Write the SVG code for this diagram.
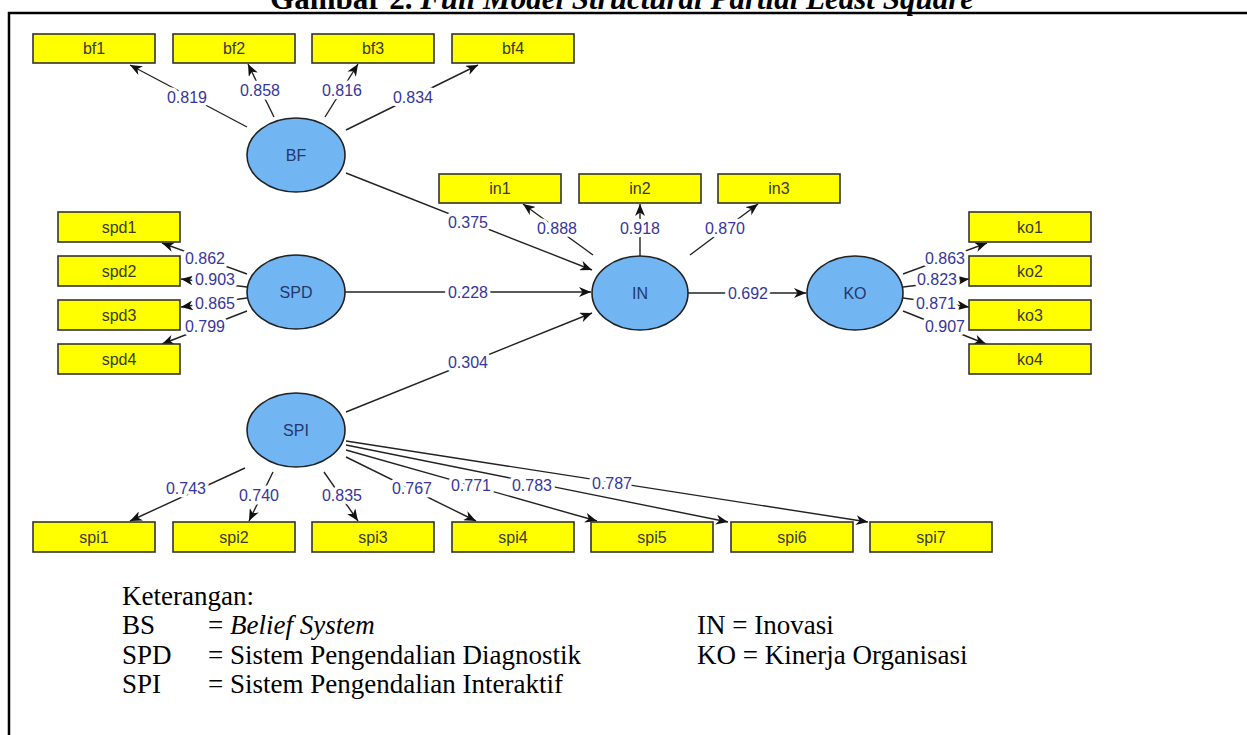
<svg xmlns="http://www.w3.org/2000/svg" width="1247" height="735" viewBox="0 0 1247 735">
<style>
.box{fill:#ffff00;stroke:#333;stroke-width:1.6}
.bt{font-family:"Liberation Sans",Arial,sans-serif;font-size:16px;fill:#3a3a2a;text-anchor:middle}
.lv{fill:#72b5f3;stroke:#222;stroke-width:1.6}
.lt{font-family:"Liberation Sans",Arial,sans-serif;font-size:16px;fill:#24386a;text-anchor:middle}
.c{stroke:#222;stroke-width:1.4;fill:none;marker-end:url(#ah)}
.w{font-family:"Liberation Sans",Arial,sans-serif;font-size:16px;fill:#36369c;text-anchor:middle;stroke:#fff;stroke-width:7;stroke-linejoin:round;paint-order:stroke}
.lg{font-family:"Liberation Serif","Times New Roman",serif;font-size:27px;fill:#000}
</style>
<defs>
<marker id="ah" viewBox="0 0 12 10" refX="12" refY="5" markerWidth="12" markerHeight="10" markerUnits="userSpaceOnUse" orient="auto">
<path d="M0,0 L12,5 L0,10 L3.5,5 Z" fill="#111"/>
</marker>
</defs>
<rect width="1247" height="735" fill="#fff"/>
<text x="622" y="9" text-anchor="middle" font-family="Liberation Serif,'Times New Roman',serif" font-weight="bold" font-size="31">Gambar 2. <tspan font-style="italic">Full Model Structural Partial Least Square</tspan></text>
<rect x="9" y="13" width="1260" height="740" fill="none" stroke="#000" stroke-width="2.5"/>

<g id="connectors">
<line class="c" x1="247" y1="127" x2="130" y2="65"/>
<line class="c" x1="274" y1="117" x2="248" y2="64"/>
<line class="c" x1="325" y1="117" x2="358" y2="64"/>
<line class="c" x1="346" y1="130" x2="478" y2="65"/>
<line class="c" x1="346" y1="173" x2="592" y2="270"/>
<line class="c" x1="343" y1="292" x2="591" y2="292"/>
<line class="c" x1="346" y1="412" x2="592" y2="313"/>
<line class="c" x1="688" y1="293" x2="806" y2="293"/>
<line class="c" x1="593" y1="255" x2="523" y2="204"/>
<line class="c" x1="640" y1="256" x2="640" y2="204"/>
<line class="c" x1="690" y1="255" x2="758" y2="204"/>
<line class="c" x1="247" y1="274" x2="162" y2="243"/>
<line class="c" x1="247" y1="287" x2="181" y2="279"/>
<line class="c" x1="247" y1="298" x2="181" y2="307"/>
<line class="c" x1="247" y1="311" x2="162" y2="344"/>
<line class="c" x1="903" y1="274" x2="987" y2="243"/>
<line class="c" x1="903" y1="287" x2="969" y2="279"/>
<line class="c" x1="903" y1="298" x2="969" y2="307"/>
<line class="c" x1="903" y1="311" x2="986" y2="344"/>
<line class="c" x1="245" y1="468" x2="130" y2="521"/>
<line class="c" x1="273" y1="472" x2="249" y2="521"/>
<line class="c" x1="324" y1="472" x2="358" y2="521"/>
<line class="c" x1="346" y1="457" x2="476" y2="521"/>
<line class="c" x1="346" y1="450" x2="597" y2="521"/>
<line class="c" x1="346" y1="445" x2="728" y2="522"/>
<line class="c" x1="346" y1="441" x2="868" y2="522"/>
<g id="labels">
<text class="w" x="187" y="103">0.819</text>
<text class="w" x="260" y="96">0.858</text>
<text class="w" x="342" y="96">0.816</text>
<text class="w" x="413" y="103">0.834</text>
<text class="w" x="468" y="228">0.375</text>
<text class="w" x="468" y="298">0.228</text>
<text class="w" x="468" y="368">0.304</text>
<text class="w" x="748" y="299">0.692</text>
<text class="w" x="557" y="234">0.888</text>
<text class="w" x="640" y="234">0.918</text>
<text class="w" x="725" y="234">0.870</text>
<text class="w" x="205" y="264">0.862</text>
<text class="w" x="215" y="285">0.903</text>
<text class="w" x="215" y="309">0.865</text>
<text class="w" x="205" y="332">0.799</text>
<text class="w" x="945" y="264">0.863</text>
<text class="w" x="937" y="285">0.823</text>
<text class="w" x="936" y="309">0.871</text>
<text class="w" x="945" y="332">0.907</text>
<text class="w" x="186" y="494">0.743</text>
<text class="w" x="259" y="501">0.740</text>
<text class="w" x="342" y="501">0.835</text>
<text class="w" x="412" y="494">0.767</text>
<text class="w" x="471" y="491">0.771</text>
<text class="w" x="532" y="491">0.783</text>
<text class="w" x="612" y="489">0.787</text>
</g>
</g>

<g id="BF"><ellipse class="lv" cx="296" cy="155" rx="49" ry="37"/><text class="lt" x="296" y="161">BF</text></g>
<g id="SPD"><ellipse class="lv" cx="296" cy="292" rx="49" ry="37"/><text class="lt" x="296" y="298">SPD</text></g>
<g id="SPI"><ellipse class="lv" cx="296" cy="430" rx="49" ry="37"/><text class="lt" x="296" y="436">SPI</text></g>
<g id="IN"><ellipse class="lv" cx="640" cy="293" rx="48" ry="37"/><text class="lt" x="640" y="299">IN</text></g>
<g id="KO"><ellipse class="lv" cx="855" cy="293" rx="48" ry="37"/><text class="lt" x="855" y="299">KO</text></g>

<g id="bf1"><rect class="box" x="33" y="34" width="122" height="29"/><text class="bt" x="94" y="54">bf1</text></g>
<g id="bf2"><rect class="box" x="173" y="34" width="122" height="29"/><text class="bt" x="234" y="54">bf2</text></g>
<g id="bf3"><rect class="box" x="312" y="34" width="122" height="29"/><text class="bt" x="373" y="54">bf3</text></g>
<g id="bf4"><rect class="box" x="452" y="34" width="122" height="29"/><text class="bt" x="513" y="54">bf4</text></g>

<g id="in1"><rect class="box" x="439" y="174" width="122" height="29"/><text class="bt" x="500" y="194">in1</text></g>
<g id="in2"><rect class="box" x="579" y="174" width="122" height="29"/><text class="bt" x="640" y="194">in2</text></g>
<g id="in3"><rect class="box" x="718" y="174" width="122" height="29"/><text class="bt" x="779" y="194">in3</text></g>

<g id="spd1"><rect class="box" x="58" y="212" width="122" height="30"/><text class="bt" x="119" y="233">spd1</text></g>
<g id="spd2"><rect class="box" x="58" y="256" width="122" height="30"/><text class="bt" x="119" y="277">spd2</text></g>
<g id="spd3"><rect class="box" x="58" y="300" width="122" height="30"/><text class="bt" x="119" y="321">spd3</text></g>
<g id="spd4"><rect class="box" x="58" y="344" width="122" height="30"/><text class="bt" x="119" y="365">spd4</text></g>

<g id="ko1"><rect class="box" x="969" y="212" width="122" height="30"/><text class="bt" x="1030" y="233">ko1</text></g>
<g id="ko2"><rect class="box" x="969" y="256" width="122" height="30"/><text class="bt" x="1030" y="277">ko2</text></g>
<g id="ko3"><rect class="box" x="969" y="300" width="122" height="30"/><text class="bt" x="1030" y="321">ko3</text></g>
<g id="ko4"><rect class="box" x="969" y="344" width="122" height="30"/><text class="bt" x="1030" y="365">ko4</text></g>

<g id="spi1"><rect class="box" x="33" y="522" width="122" height="30"/><text class="bt" x="94" y="543">spi1</text></g>
<g id="spi2"><rect class="box" x="173" y="522" width="122" height="30"/><text class="bt" x="234" y="543">spi2</text></g>
<g id="spi3"><rect class="box" x="312" y="522" width="122" height="30"/><text class="bt" x="373" y="543">spi3</text></g>
<g id="spi4"><rect class="box" x="452" y="522" width="122" height="30"/><text class="bt" x="513" y="543">spi4</text></g>
<g id="spi5"><rect class="box" x="591" y="522" width="122" height="30"/><text class="bt" x="652" y="543">spi5</text></g>
<g id="spi6"><rect class="box" x="731" y="522" width="122" height="30"/><text class="bt" x="792" y="543">spi6</text></g>
<g id="spi7"><rect class="box" x="870" y="522" width="122" height="30"/><text class="bt" x="931" y="543">spi7</text></g>

<g id="legend">
<text class="lg" x="122" y="605">Keterangan:</text>
<text class="lg" x="122" y="634">BS</text>
<text class="lg" x="208" y="634">= <tspan font-style="italic">Belief System</tspan></text>
<text class="lg" x="122" y="664">SPD</text>
<text class="lg" x="208" y="664">= Sistem Pengendalian Diagnostik</text>
<text class="lg" x="122" y="693">SPI</text>
<text class="lg" x="208" y="693">= Sistem Pengendalian Interaktif</text>
<text class="lg" x="697" y="634">IN = Inovasi</text>
<text class="lg" x="697" y="664">KO = Kinerja Organisasi</text>
</g>
</svg>
